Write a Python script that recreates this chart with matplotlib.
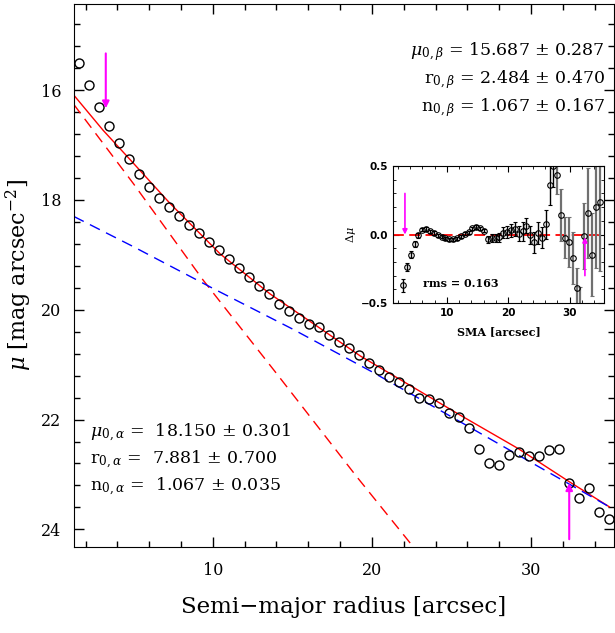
import matplotlib
matplotlib.use("Agg")
import matplotlib.pyplot as plt
from matplotlib.ticker import MultipleLocator

plt.rcParams['font.family'] = ['DejaVu Serif']
plt.rcParams['mathtext.fontset'] = 'dejavuserif'

# surface brightness profile
radius = [1.57, 2.20, 2.83, 3.46, 4.09, 4.72, 5.35, 5.97, 6.60, 7.23,
          7.86, 8.49, 9.12, 9.75, 10.38, 11.01, 11.64, 12.27, 12.90, 13.53,
          14.15, 14.78, 15.41, 16.04, 16.67, 17.30, 17.93, 18.56, 19.19, 19.82,
          20.45, 21.08, 21.71, 22.33, 22.96, 23.59, 24.22, 24.85, 25.48, 26.11,
          26.74, 27.37, 28.00, 28.63, 29.26, 29.89, 30.51, 31.14, 31.77, 32.40,
          33.03, 33.66, 34.29, 34.92]
mu = [15.50, 15.91, 16.30, 16.66, 16.97, 17.26, 17.52, 17.76, 17.96, 18.13,
      18.29, 18.45, 18.61, 18.76, 18.92, 19.07, 19.24, 19.40, 19.56, 19.71,
      19.90, 20.03, 20.15, 20.26, 20.32, 20.46, 20.58, 20.69, 20.83, 20.97,
      21.10, 21.23, 21.31, 21.45, 21.60, 21.63, 21.69, 21.88, 21.95, 22.15,
      22.54, 22.80, 22.83, 22.65, 22.60, 22.67, 22.67, 22.56, 22.53, 23.15,
      23.43, 23.24, 23.69, 23.82]

# fitted components
total_r = [1.26, 3.10, 4.72, 7.30, 10.45, 13.59, 19.26, 25.55, 29.20, 32.39, 34.92]
total_mu = [16.09, 16.73, 17.24, 18.06, 18.98, 19.71, 20.84, 21.92, 22.53, 23.13, 23.59]
bulge_r = [1.26, 5.00, 9.39, 14.00, 19.04, 22.60]
bulge_mu = [16.26, 17.70, 19.46, 21.16, 23.04, 24.32]
disk_r = [1.26, 5.00, 10.00, 15.00, 20.00, 25.00, 30.00, 34.92]
disk_mu = [18.30, 18.85, 19.61, 20.35, 21.13, 21.95, 22.78, 23.59]

# residuals (inset)
sma = radius[2:]
resid = [-0.372, -0.238, -0.146, -0.068, -0.007, 0.036, 0.041, 0.024, 0.012, -0.007,
         -0.015, -0.029, -0.034, -0.036, -0.027, -0.012, 0.005, 0.017, 0.046, 0.054,
         0.046, 0.029, -0.036, -0.027, -0.027, -0.019, 0.012, 0.020, 0.030, 0.039,
         0.005, 0.024, 0.063, -0.005, -0.058, 0.012, -0.022, 0.075, 0.360, 0.500,
         0.433, 0.141, -0.022, -0.054, -0.168, -0.387, -0.560, -0.010, 0.158, -0.146,
         0.202, 0.234]
resid_err = [0.045, 0.030, 0.025, 0.020, 0.015, 0.012, 0.012, 0.012, 0.012, 0.012,
             0.012, 0.012, 0.012, 0.012, 0.012, 0.012, 0.012, 0.012, 0.012, 0.012,
             0.012, 0.012, 0.025, 0.028, 0.030, 0.033, 0.040, 0.045, 0.050, 0.050,
             0.055, 0.070, 0.055, 0.067, 0.080, 0.078, 0.080, 0.107, 0.146, 0.150,
             0.140, 0.190, 0.150, 0.180, 0.190, 0.140, 0.180, 0.240, 0.330, 0.300,
             0.450, 0.500]
n_black = 40

arrow_in = 3.27
arrow_out = 32.40

fig = plt.figure(figsize=(6.15, 6.33), dpi=100)
ax = fig.add_axes([0.120, 0.136, 0.878, 0.8577])

ax.plot(total_r, total_mu, color='red', lw=1.0)
ax.plot(bulge_r, bulge_mu, color='red', lw=1.0, dashes=(8, 5))
ax.plot(disk_r, disk_mu, color='blue', lw=1.0, dashes=(8, 5))
ax.plot(radius, mu, 'o', ms=6.5, mfc='none', mec='black', mew=1.0)

ax.annotate('', xy=(arrow_in, 16.33), xytext=(arrow_in, 15.33),
            arrowprops=dict(arrowstyle='-|>', color='magenta', lw=1.5,
                            mutation_scale=10, shrinkA=0, shrinkB=0))
ax.annotate('', xy=(arrow_out, 23.16), xytext=(arrow_out, 24.18),
            arrowprops=dict(arrowstyle='-|>', color='magenta', lw=1.5,
                            mutation_scale=10, shrinkA=0, shrinkB=0))

ax.set_xlim(1.26, 35.2)
ax.set_ylim(24.32, 14.43)
ax.xaxis.set_major_locator(MultipleLocator(10))
ax.xaxis.set_minor_locator(MultipleLocator(2))
ax.yaxis.set_major_locator(MultipleLocator(2))
ax.yaxis.set_minor_locator(MultipleLocator(0.4))
ax.tick_params(which='both', direction='in', top=True, right=True, labelsize=11.5)
ax.tick_params(which='major', length=7, width=1)
ax.tick_params(which='minor', length=4, width=1)
ax.tick_params(axis='x', pad=11)
ax.tick_params(axis='y', pad=9)
ax.set_xlabel('Semi\u2212major radius [arcsec]', fontsize=16.5, labelpad=12)
ax.set_ylabel(r'$\mu$ [mag arcsec$^{-2}$]', fontsize=16, labelpad=5)

tfs = 12.5
ax.text(0.984, 0.912, r'$\mu_{0,\beta}$ = 15.687 $\pm$ 0.287', transform=ax.transAxes,
        ha='right', va='center', fontsize=tfs)
ax.text(0.984, 0.860, r'r$_{0,\beta}$ = 2.484 $\pm$ 0.470', transform=ax.transAxes,
        ha='right', va='center', fontsize=tfs)
ax.text(0.984, 0.810, r'n$_{0,\beta}$ = 1.067 $\pm$ 0.167', transform=ax.transAxes,
        ha='right', va='center', fontsize=tfs)

ax.text(0.030, 0.210, r'$\mu_{0,\alpha}$ =  18.150 $\pm$ 0.301', transform=ax.transAxes,
        ha='left', va='center', fontsize=tfs)
ax.text(0.030, 0.160, r'r$_{0,\alpha}$ =  7.881 $\pm$ 0.700', transform=ax.transAxes,
        ha='left', va='center', fontsize=tfs)
ax.text(0.030, 0.110, r'n$_{0,\alpha}$ =  1.067 $\pm$ 0.035', transform=ax.transAxes,
        ha='left', va='center', fontsize=tfs)

# inset with residuals
ins = fig.add_axes([0.639, 0.5213, 0.343, 0.2164])
ins.axhline(0, color='red', lw=1.3, dashes=(6, 3))
ins.errorbar(sma[:n_black], resid[:n_black], yerr=resid_err[:n_black], fmt='o',
             ms=4, mfc='none', mec='black', mew=0.8, ecolor='black',
             elinewidth=1.0, capsize=1.5)
ins.errorbar(sma[n_black:], resid[n_black:], yerr=resid_err[n_black:], fmt='o',
             ms=4, mfc='none', mec='black', mew=0.8, ecolor='#707070',
             elinewidth=1.6, capsize=1.5)
ins.annotate('', xy=(3.15, 0.0), xytext=(3.15, 0.30),
             arrowprops=dict(arrowstyle='-|>', color='magenta', lw=1.2,
                             mutation_scale=7, shrinkA=0, shrinkB=0))
ins.annotate('', xy=(32.5, -0.02), xytext=(32.5, -0.30),
             arrowprops=dict(arrowstyle='-|>', color='magenta', lw=1.2,
                             mutation_scale=7, shrinkA=0, shrinkB=0))
ins.text(6.1, -0.357, 'rms = 0.163', fontsize=8, ha='left', va='center',
         fontweight='bold')
ins.set_xlim(1.2, 35.6)
ins.set_ylim(-0.5, 0.5)
ins.xaxis.set_major_locator(MultipleLocator(10))
ins.xaxis.set_minor_locator(MultipleLocator(2))
ins.yaxis.set_major_locator(MultipleLocator(0.5))
ins.yaxis.set_minor_locator(MultipleLocator(0.1))
ins.tick_params(which='both', direction='in', top=True, right=True, labelsize=7.5)
ins.tick_params(which='major', length=4)
ins.tick_params(which='minor', length=2)
for lab in ins.get_xticklabels() + ins.get_yticklabels():
    lab.set_fontweight('bold')
    lab.set_family('DejaVu Sans')
ins.set_xlabel('SMA [arcsec]', fontsize=8, fontweight='bold', labelpad=6)
ins.set_ylabel(r'$\Delta\mu$', fontsize=8, labelpad=2)

plt.savefig('out.png', dpi=100)
